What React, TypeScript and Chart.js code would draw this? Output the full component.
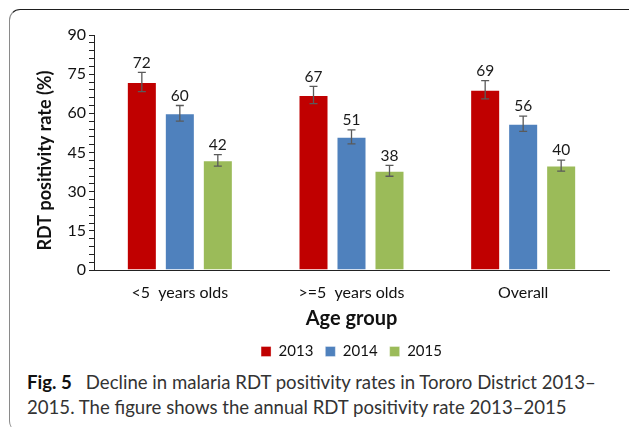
import React, { useEffect, useRef } from "react";
import { Chart, registerables } from "chart.js";

Chart.register(...registerables);

// Age groups on the x axis
const categories = ["<5  years olds", ">=5  years olds", "Overall"];
// Survey years shown as series
const years = ["2013", "2014", "2015"];
// RDT positivity rate (%) by age group
const rate2013 = [72, 67, 69];
const rate2014 = [60, 51, 56];
const rate2015 = [42, 38, 40];
// Half-width of the error bars (%)
const err2013 = [3.7, 3.3, 3.5];
const err2014 = [3.0, 2.7, 2.9];
const err2015 = [2.2, 2.1, 2.1];
// Labelled y-axis values
const yTickLabels = [0, 15, 30, 45, 60, 75, 90];

const seriesColors = ["#C00000", "#4F81BD", "#9BBB59"];
const FONT = "Lato, 'Open Sans', sans-serif";

const errorsBySeries = [err2013, err2014, err2015];

const barExtras = {
  id: "barExtras",
  afterDatasetsDraw(chart: any) {
    const ctx = chart.ctx;
    const y = chart.scales.y;
    chart.data.datasets.forEach((ds: any, i: number) => {
      const meta = chart.getDatasetMeta(i);
      meta.data.forEach((bar: any, j: number) => {
        const v = ds.data[j];
        const e = errorsBySeries[i][j];
        const top = y.getPixelForValue(v + e);
        const bottom = y.getPixelForValue(v - e);
        const x = bar.x;
        ctx.save();
        ctx.strokeStyle = "#5a5a5a";
        ctx.lineWidth = 1.3;
        ctx.beginPath();
        ctx.moveTo(x, top);
        ctx.lineTo(x, bottom);
        ctx.moveTo(x - 4, top);
        ctx.lineTo(x + 4, top);
        ctx.moveTo(x - 4, bottom);
        ctx.lineTo(x + 4, bottom);
        ctx.stroke();
        ctx.fillStyle = "#1a1a1a";
        ctx.font = `15.5px ${FONT}`;
        ctx.textAlign = "center";
        ctx.textBaseline = "bottom";
        ctx.fillText(String(v), x, top - 2);
        ctx.restore();
      });
    });
    // y-axis title
    const area = chart.chartArea;
    ctx.save();
    ctx.translate(45, (area.top + area.bottom) / 2 + 8);
    ctx.rotate(-Math.PI / 2);
    ctx.fillStyle = "#111";
    ctx.font = `bold 18px ${FONT}`;
    ctx.textAlign = "center";
    ctx.textBaseline = "middle";
    ctx.fillText("RDT positivity rate (%)", 0, 0);
    ctx.restore();
  },
};

function RdtChart() {
  const ref = useRef<HTMLCanvasElement | null>(null);
  useEffect(() => {
    if (!ref.current) return;
    const chart = new Chart(ref.current, {
      type: "bar",
      data: {
        labels: categories,
        datasets: [rate2013, rate2014, rate2015].map((d, i) => ({
          label: years[i],
          data: d,
          backgroundColor: seriesColors[i],
          borderColor: "rgba(255,255,255,0.35)",
          borderWidth: 1,
          categoryPercentage: 0.664,
          barPercentage: 0.79,
        })),
      },
      options: {
        animation: false,
        responsive: false,
        maintainAspectRatio: false,
        layout: { padding: { top: 35, right: 20, left: 0, bottom: 0 } },
        plugins: {
          tooltip: { enabled: false },
          legend: {
            position: "bottom",
            fullSize: false,
            labels: {
              boxWidth: 10,
              boxHeight: 10,
              padding: 12,
              color: "#111",
              font: { family: FONT, size: 15 },
            },
          },
        },
        scales: {
          x: {
            grid: { display: false },
            border: { display: true, color: "#222", width: 1 },
            ticks: {
              color: "#111",
              padding: 5,
              font: { family: FONT, size: 16 },
            },
            title: {
              display: true,
              text: "Age group",
              color: "#111",
              font: { family: FONT, size: 20, weight: "bold" },
              padding: { top: 0, bottom: 1 },
            },
            afterFit: (s: any) => {
              s.height = 62;
            },
          },
          y: {
            min: 0,
            max: 90,
            grid: {
              display: true,
              drawOnChartArea: false,
              drawTicks: true,
              tickLength: 5,
              color: "#222",
            },
            border: { display: true, color: "#222", width: 1 },
            ticks: {
              stepSize: 3,
              autoSkip: false,
              padding: 3,
              color: "#111",
              font: { family: FONT, size: 16 },
              callback: (v: any) => (yTickLabels.includes(Number(v)) ? String(v) : ""),
            },
            afterFit: (s: any) => {
              s.width = 94;
            },
          },
        },
      },
      plugins: [barExtras],
    });
    return () => chart.destroy();
  }, []);
  return (
    <canvas
      ref={ref}
      width={629}
      height={369}
      style={{ position: "absolute", left: 0, top: 0, width: 629, height: 369 }}
    />
  );
}

export default function App() {
  return (
    <div
      style={{
        position: "fixed",
        inset: 0,
        overflow: "hidden",
        background: "#fff",
      }}
    >
      <div
        style={{
          position: "absolute",
          left: 9,
          top: 9,
          width: 640,
          height: 423,
          borderTop: "1.5px solid #1e1e1e",
          borderLeft: "1.5px solid #8a8a8a",
          borderRadius: 11,
          boxSizing: "border-box",
        }}
      />
      <RdtChart />
      <div
        style={{
          position: "absolute",
          left: 27,
          top: 370,
          fontFamily: FONT,
          fontSize: 18.6,
          lineHeight: "25px",
          color: "#333",
          whiteSpace: "nowrap",
        }}
      >
        <span style={{ fontWeight: "bold", color: "#111" }}>Fig. 5</span>
        {"\u2002 Decline in malaria RDT positivity rates in Tororo District 2013\u2013"}
        <br />
        {"2015. The figure shows the annual RDT positivity rate 2013\u20132015"}
      </div>
    </div>
  );
}
